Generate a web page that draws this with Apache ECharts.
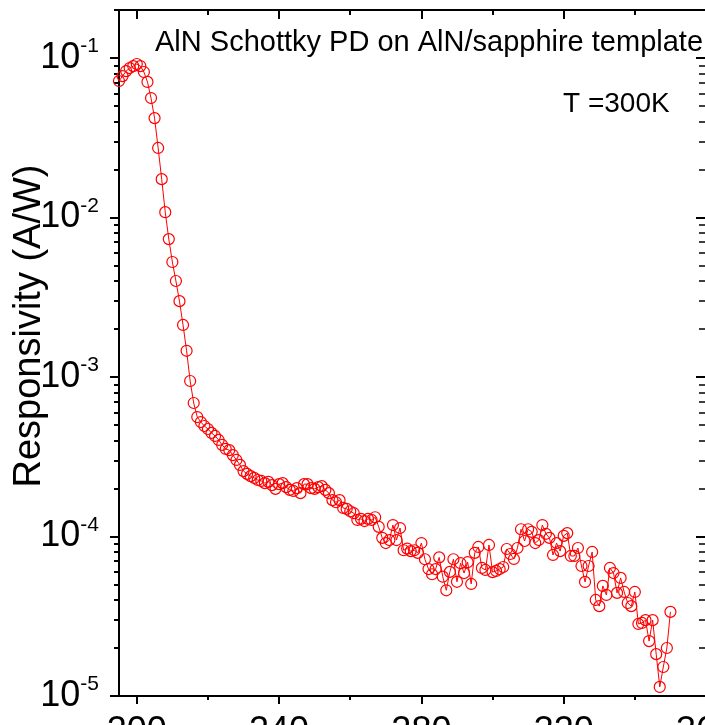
<!DOCTYPE html>
<html>
<head>
<meta charset="utf-8">
<script src="https://cdn.jsdelivr.net/npm/echarts@6/dist/echarts.min.js"></script>
<style>
html, body { margin: 0; padding: 0; background: #fff; }
#chart { width: 705px; height: 725px; }
</style>
</head>
<body>
<div id="chart"></div>
<script>
// wavelength (nm)
var wavelength = [
    195, 196, 197, 198, 199, 200, 201, 202, 203, 204, 205, 206, 207, 208, 209,
    210, 211, 212, 213, 214, 215, 216, 217, 218, 219, 220, 221, 222, 223, 224,
    225, 226, 227, 228, 229, 230, 231, 232, 233, 234, 235, 236, 237, 238, 239,
    240, 241, 242, 243, 244, 245, 246, 247, 248, 249, 250, 251, 252, 253, 254,
    255, 256, 257, 258, 259, 260, 261, 262, 263, 264, 265, 266, 267, 268, 269,
    270, 271, 272, 273, 274, 275, 276, 277, 278, 279, 280, 281, 282, 283, 284,
    285, 286, 287, 288, 289, 290, 291, 292, 293, 294, 295, 296, 297, 298, 299,
    300, 301, 302, 303, 304, 305, 306, 307, 308, 309, 310, 311, 312, 313, 314,
    315, 316, 317, 318, 319, 320, 321, 322, 323, 324, 325, 326, 327, 328, 329,
    330, 331, 332, 333, 334, 335, 336, 337, 338, 339, 340, 341, 342, 343, 344,
    345, 346, 347, 348, 349, 350
];
// responsivity (A/W)
var responsivity = [
    0.0717, 0.077, 0.0828, 0.0865, 0.089, 0.0917, 0.089, 0.0817, 0.0708, 0.0561,
    0.042, 0.0273, 0.0174, 0.0108, 0.00732, 0.00526, 0.0040, 0.00299, 0.00212, 0.00146,
    9.44e-4, 6.87e-4, 5.61e-4, 5.22e-4, 4.93e-4, 4.72e-4, 4.46e-4, 4.27e-4, 4.03e-4, 3.75e-4,
    3.54e-4, 3.48e-4, 3.24e-4, 3.02e-4, 2.81e-4, 2.57e-4, 2.47e-4, 2.39e-4, 2.33e-4, 2.26e-4,
    2.23e-4, 2.16e-4, 2.2e-4, 2.1e-4, 1.99e-4, 2.13e-4, 2.16e-4, 2.04e-4, 1.96e-4, 1.93e-4,
    2.01e-4, 1.87e-4, 2.13e-4, 2.13e-4, 2.01e-4, 1.99e-4, 2.04e-4, 2.07e-4, 1.96e-4, 1.87e-4,
    1.69e-4, 1.64e-4, 1.69e-4, 1.51e-4, 1.49e-4, 1.44e-4, 1.40e-4, 1.27e-4, 1.29e-4, 1.25e-4,
    1.29e-4, 1.27e-4, 1.32e-4, 1.15e-4, 9.8e-5, 9.1e-5, 9.5e-5, 1.18e-4, 9.5e-5, 1.13e-4,
    8.2e-5, 8.4e-5, 8.1e-5, 8.2e-5, 7.9e-5, 9.1e-5, 7.2e-5, 6.25e-5, 5.8e-5, 6.25e-5,
    7.4e-5, 5.6e-5, 4.6e-5, 6.0e-5, 7.2e-5, 5.2e-5, 6.8e-5, 5.9e-5, 6.9e-5, 5.04e-5,
    7.9e-5, 8.6e-5, 6.35e-5, 6.17e-5, 8.85e-5, 5.98e-5, 6.08e-5, 6.25e-5, 6.44e-5, 8.35e-5,
    7.77e-5, 7.23e-5, 8.47e-5, 1.11e-4, 9.37e-5, 1.11e-4, 1.07e-4, 9.1e-5, 9.5e-5, 1.18e-4,
    1.04e-4, 9.8e-5, 7.66e-5, 9.1e-5, 8.1e-5, 1.01e-4, 1.05e-4, 7.55e-5, 7.55e-5, 8.47e-5,
    6.53e-5, 5.19e-5, 6.53e-5, 8.0e-5, 4.0e-5, 3.66e-5, 4.9e-5, 4.3e-5, 6.35e-5, 5.9e-5,
    4.43e-5, 5.5e-5, 4.49e-5, 3.83e-5, 3.66e-5, 4.49e-5, 2.83e-5, 2.87e-5, 2.99e-5, 2.21e-5,
    2.99e-5, 1.83e-5, 1.14e-5, 1.52e-5, 2.0e-5, 3.37e-5
];

var xMajor = [200, 240, 280, 320, 360];
var xMinor = [220, 260, 300, 340];
var yMajor = [1e-5, 1e-4, 1e-3, 1e-2, 1e-1];
var yMinor = [
    2e-5, 3e-5, 4e-5, 5e-5, 6e-5, 7e-5, 8e-5, 9e-5,
    2e-4, 3e-4, 4e-4, 5e-4, 6e-4, 7e-4, 8e-4, 9e-4,
    2e-3, 3e-3, 4e-3, 5e-3, 6e-3, 7e-3, 8e-3, 9e-3,
    2e-2, 3e-2, 4e-2, 5e-2, 6e-2, 7e-2, 8e-2, 9e-2, 2e-1
];

var titleText = 'AlN Schottky PD on AlN/sapphire template';
var tempText = 'T =300K';
var yName = 'Responsivity (A/W)';

var FONT = '"Liberation Sans", Arial, sans-serif';
var X_MIN = 195, X_MAX = 360, Y_MIN = 1e-5, Y_MAX = 0.2;

var seriesData = [];
for (var i = 0; i < wavelength.length; i++) {
    seriesData.push([wavelength[i], responsivity[i]]);
}

function xAxisDef(pos, ticks, len, inside, showLine, labels) {
    return {
        type: 'value', position: pos, min: X_MIN, max: X_MAX,
        axisLine: { show: showLine, onZero: false, lineStyle: { color: '#000', width: 2 } },
        axisTick: { show: true, inside: inside, length: len, customValues: ticks,
                    lineStyle: { color: '#000', width: 2 } },
        axisLabel: labels ? { show: true, customValues: ticks, fontSize: 36, color: '#000',
                              fontFamily: FONT, margin: 18 } : { show: false },
        splitLine: { show: false }
    };
}

function yAxisDef(pos, ticks, len, inside, showLine, labels, tickW) {
    return {
        type: 'log', logBase: 10, position: pos, min: Y_MIN, max: Y_MAX,
        axisLine: { show: showLine, onZero: false, lineStyle: { color: '#000', width: 2 } },
        axisTick: { show: true, inside: inside, length: len, customValues: ticks,
                    lineStyle: { color: '#000', width: tickW } },
        axisLabel: labels ? {
            show: true, customValues: ticks, color: '#000', fontFamily: FONT,
            fontSize: 36, margin: 20,
            formatter: function (v) {
                return '{b|10}{e|' + Math.round(Math.log10(v)) + '}';
            },
            rich: {
                b: { fontSize: 36, fontFamily: FONT, color: '#000', lineHeight: 44 },
                e: { fontSize: 21, fontFamily: FONT, color: '#000', verticalAlign: 'top', lineHeight: 32 }
            }
        } : { show: false },
        splitLine: { show: false }
    };
}

var chart = echarts.init(document.getElementById('chart'), null, { renderer: 'canvas' });
var option = {
    animation: false,
    backgroundColor: '#fff',
    grid: { left: 119, top: 10, width: 587, height: 686, outerBoundsMode: 'none', containLabel: false },
    xAxis: [
        xAxisDef('bottom', xMajor, 8, false, true, true),
        xAxisDef('bottom', xMinor, 4, false, false, false),
        xAxisDef('top', xMajor, 9, true, true, false),
        xAxisDef('top', xMinor, 5, true, false, false)
    ],
    yAxis: [
        yAxisDef('left', yMajor, 9, false, true, true, 2),
        yAxisDef('left', yMinor, 5, false, false, false, 2),
        yAxisDef('right', yMajor, 10, true, true, false, 2),
        yAxisDef('right', yMinor, 7, true, false, false, 1.5)
    ],
    series: [{
        type: 'line',
        data: seriesData,
        xAxisIndex: 0,
        yAxisIndex: 0,
        symbol: 'circle',
        symbolSize: 11,
        showAllSymbol: true,
        itemStyle: { color: 'transparent', borderColor: '#ff0000', borderWidth: 1.2 },
        lineStyle: { color: '#ff0000', width: 1 },
        emphasis: { disabled: true }
    }],
    graphic: [
        { type: 'text', x: 155, y: 43,
          style: { text: titleText, font: '29px ' + FONT, fill: '#000', verticalAlign: 'middle' } },
        { type: 'text', x: 563, y: 104,
          style: { text: tempText, font: '28px ' + FONT, fill: '#000', verticalAlign: 'middle' } },
        { type: 'text', x: 30, y: 326, rotation: Math.PI / 2,
          style: { text: yName, font: '38px ' + FONT, fill: '#000', align: 'center', verticalAlign: 'middle' } }
    ]
};
chart.setOption(option);
</script>
</body>
</html>
